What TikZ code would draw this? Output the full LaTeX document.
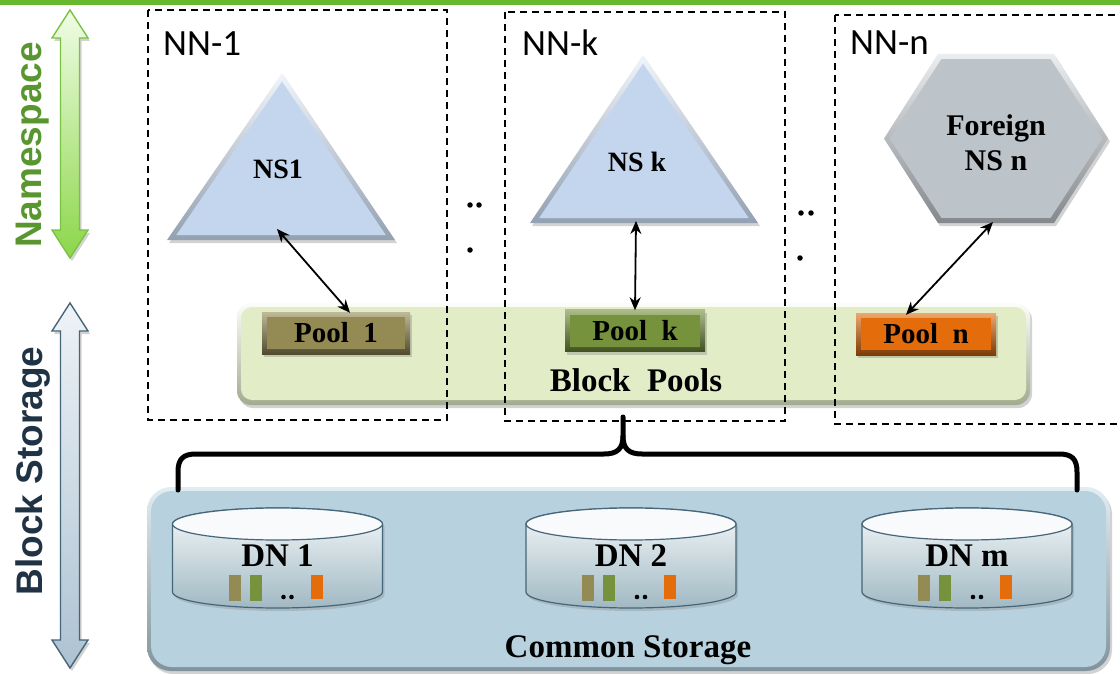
\documentclass[tikz,border=0pt]{standalone}
\usepackage{fontspec}
\setmainfont{Liberation Serif}
\setsansfont{Liberation Sans}
\newfontfamily\calibri{Carlito}
\usetikzlibrary{shadows,calc,arrows.meta}

\definecolor{topgreen}{HTML}{66B82D}
\definecolor{nsgreen}{HTML}{5A9630}
\definecolor{bsdark}{HTML}{1F3344}
\definecolor{olivebar}{HTML}{948A54}
\definecolor{greenbar}{HTML}{76923C}
\definecolor{orangebar}{HTML}{E46C0A}
\definecolor{nsblue}{HTML}{C4D6ED}
\definecolor{nsgray}{HTML}{BCC3C9}
\definecolor{poolbg}{HTML}{E2EDC7}
\definecolor{storebg}{HTML}{B7D2DE}
\definecolor{nsarrowtop}{HTML}{F0FCE6}
\definecolor{nsarrowbot}{HTML}{8CD64A}
\definecolor{nsarrowline}{HTML}{79C243}
\definecolor{bsarrowtop}{HTML}{EEF3F7}
\definecolor{bsarrowbot}{HTML}{ADC2D2}
\definecolor{bsarrowline}{HTML}{456579}

\newcommand\nnfont{\calibri\fontsize{37}{40}\selectfont}
\newcommand\sidefont{\sffamily\bfseries\fontsize{37}{40}\selectfont}
\newcommand\shapefont{\bfseries\fontsize{28}{34}\selectfont}
\newcommand\poolfont{\bfseries\fontsize{29}{32}\selectfont}
\newcommand\bigfont{\bfseries\fontsize{33}{36}\selectfont}

% one data node: cylinder with its label and block bars
\newcommand\dnstore[3]{%
  \path[drop shadow={shadow xshift=2pt,shadow yshift=-3pt,opacity=.3},
        top color=white!85!storebg, bottom color=storebg!88!black,
        draw=bsarrowline, line width=1.2pt]
    (#1-105,524) -- (#1-105,592)
    arc[start angle=180,end angle=0,x radius=105,y radius=16]
    -- (#1+105,524)
    arc[start angle=0,end angle=-180,x radius=105,y radius=16] -- cycle;
  \draw[fill=white!90!storebg, draw=bsarrowline, line width=1.2pt]
    (#1,524) ellipse [x radius=105, y radius=16];
  \node[font=\bigfont] (#2) at (#1,556) {#3};
  \fill[olivebar]  (#1-49,575) rectangle ++(12,26);
  \fill[greenbar]  (#1-28,575) rectangle ++(12,26);
  \fill[black] (#1+6,597) circle (2.3) (#1+14,597) circle (2.3);
  \fill[orangebar] (#1+33,575) rectangle ++(12,24);
}

\tikzset{
  every node/.style={inner sep=0pt},
  nnbox/.style={draw=black, line width=1.3pt, dash pattern=on 7pt off 5pt},
  nnlabel/.style={anchor=base west, font=\nnfont},
  side/.style={font=\sidefont, rotate=90},
  link/.style={{Stealth[length=13pt,width=11pt]}-{Stealth[length=13pt,width=11pt]},
               line width=1.8pt},
  softshadow/.style={drop shadow={shadow xshift=2pt,shadow yshift=-3pt,opacity=.35}},
  pool/.style={minimum height=42pt, font=\poolfont, softshadow,
    top color=#1!60!white, bottom color=#1!55!black,
    path picture={\fill[#1] ([shift={(5pt,-5pt)}]path picture bounding box.north west)
       rectangle ([shift={(-5pt,5pt)}]path picture bounding box.south east);}},
  dot/.style={circle, fill=black, minimum size=5.5pt}
}

\begin{document}
\begin{tikzpicture}[x=1pt,y=-1pt]
\useasboundingbox (0,0) rectangle (1120,674);
\fill[white] (0,0) rectangle (1120,674);

% rule along the top
\fill[topgreen] (0,0) rectangle (1120,5);

% side arrows and their titles
\path[softshadow, top color=nsarrowtop, bottom color=nsarrowbot,
      draw=nsarrowline, line width=1.4pt]
  (70,10) -- (88,38) -- (79.5,38) -- (79.5,230) -- (88,230) -- (70,258)
  -- (52,230) -- (60.5,230) -- (60.5,38) -- (52,38) -- cycle;
\path[softshadow, top color=bsarrowtop, bottom color=bsarrowbot,
      draw=bsarrowline, line width=1.4pt]
  (70,303) -- (88,331) -- (79.5,331) -- (79.5,640) -- (88,640) -- (70,668)
  -- (52,640) -- (60.5,640) -- (60.5,331) -- (52,331) -- cycle;
\node[side, text=nsgreen] (nstitle) at (33,145) {Namespace};
\node[side, text=bsdark] (bstitle) at (33,471) {Block Storage};

% block pool band
\path[softshadow, top color=white!90!poolbg, bottom color=poolbg!72!black,
      rounded corners=14pt] (237,303) rectangle (1030,405);
\fill[poolbg, rounded corners=11pt] (241,307) rectangle (1026,400);
\node[font=\bigfont] (blockpools) at (636,380) {Block\ \ Pools};

% namenode boxes
\draw[nnbox] (148,10) rectangle (447,420);
\draw[nnbox] (505,12) rectangle (785,421);
\draw[nnbox] (835,15) rectangle (1130,424);
\node[nnlabel] (nn1) at (163,56) {NN-1};
\node[nnlabel] (nnk) at (522,56) {NN-k};
\node[nnlabel] (nnn) at (850,55) {NN-n};

% pools
\node[pool=olivebar,  minimum width=148pt] (pool1) at (336,333) {Pool\ \ 1};
\node[pool=greenbar,  minimum width=140pt] (poolk) at (635,330.5) {Pool\ \ k};
\node[pool=orangebar, minimum width=140pt] (pooln) at (926,334) {Pool\ \ n};

% namespace NS1
\coordinate (a1) at (282,73);
\coordinate (b1) at (167,240);
\coordinate (c1) at (395,240);
\coordinate (i1) at (281.6,179.8);
\path[softshadow, top color=white!75!nsblue, bottom color=nsblue!75!black]
  (a1) -- (b1) -- (c1) -- cycle;
\fill[nsblue] ($(i1)!0.92!(a1)$) -- ($(i1)!0.92!(b1)$) -- ($(i1)!0.92!(c1)$) -- cycle;
\node[font=\shapefont] (ns1) at (278,169) {NS1};

% namespace NS k
\coordinate (ak) at (643,55);
\coordinate (bk) at (530,223);
\coordinate (ck) at (758,223);
\coordinate (ik) at (643.4,162.6);
\path[softshadow, top color=white!75!nsblue, bottom color=nsblue!75!black]
  (ak) -- (bk) -- (ck) -- cycle;
\fill[nsblue] ($(ik)!0.92!(ak)$) -- ($(ik)!0.92!(bk)$) -- ($(ik)!0.92!(ck)$) -- cycle;
\node[font=\shapefont] (nsk) at (637,162) {NS k};

% foreign namespace
\coordinate (hc) at (996,138.5);
\path[softshadow, top color=white!70!nsgray, bottom color=nsgray!70!black]
  (938,54) -- (1054,54) -- (1108,138.5) -- (1054,223) -- (938,223) -- (884,138.5) -- cycle;
\fill[nsgray] ($(hc)!0.94!(938,54)$) -- ($(hc)!0.94!(1054,54)$) -- ($(hc)!0.95!(1108,138.5)$)
  -- ($(hc)!0.94!(1054,223)$) -- ($(hc)!0.94!(938,223)$) -- ($(hc)!0.95!(884,138.5)$) -- cycle;
\node[font=\shapefont\fontsize{30}{35}\selectfont, align=center] (nsn) at (996,143)
  {Foreign\\NS n};

% namespace to pool links
\coordinate (ns1-foot) at (277,229);
\coordinate (nsk-foot) at (636,221);
\coordinate (nsn-foot) at (993,222);
\draw[link] (ns1-foot) -- ([xshift=14pt,yshift=-1pt]pool1.north);
\draw[link] (nsk-foot) -- ([yshift=-1pt]poolk.north);
\draw[link] (nsn-foot) -- ([xshift=-20pt,yshift=-2pt]pooln.north);

% ellipsis dots between the namenodes
\node[dot] (d1) at (470,205) {};
\node[dot] (d2) at (479,205) {};
\node[dot] (d3) at (470,250) {};
\node[dot] (d4) at (801,213) {};
\node[dot] (d5) at (811,213) {};
\node[dot] (d6) at (800,258) {};

% common storage
\path[softshadow, top color=white!60!storebg, bottom color=storebg!70!black,
      rounded corners=24pt] (147,487) rectangle (1110,671);
\fill[storebg, rounded corners=21pt] (151,491) rectangle (1106,667);
\node[font=\bigfont] (common) at (628,650) {Common Storage};

\dnstore{277.5}{dn1}{DN 1}
\dnstore{631}{dn2}{DN 2}
\dnstore{967}{dnm}{DN m}

% brace gathering the pools over the storage
\draw[line width=5pt, line cap=round, line join=round]
  (178,490) -- (178,472) .. controls (178,459) and (183,454) .. (196,454)
  -- (604,454) .. controls (617,454) and (623,449) .. (623,436) -- (623,417);
\draw[line width=5pt, line cap=round, line join=round]
  (623,436) .. controls (623,449) and (629,454) .. (642,454)
  -- (1059,454) .. controls (1072,454) and (1077,459) .. (1077,472) -- (1077,490);
\end{tikzpicture}
\end{document}
